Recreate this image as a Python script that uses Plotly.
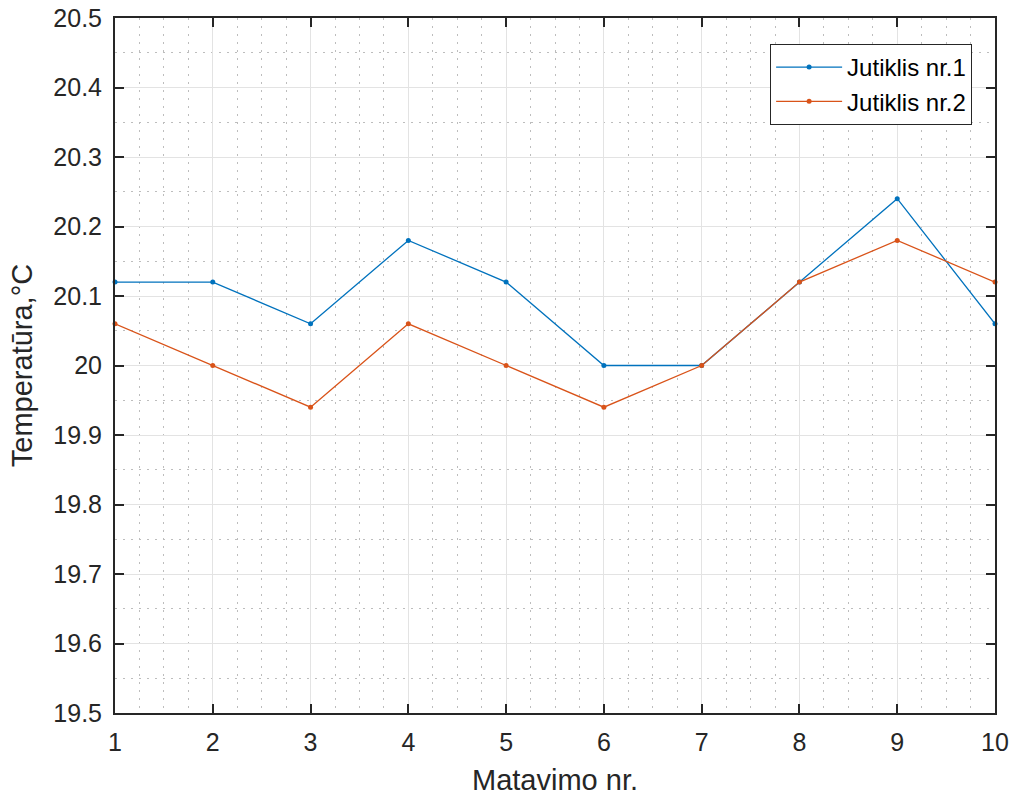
import plotly.graph_objects as go

x_vals = [1, 2, 3, 4, 5, 6, 7, 8, 9, 10]
sensor1 = [20.12, 20.12, 20.06, 20.18, 20.12, 20.00, 20.00, 20.12, 20.24, 20.06]
sensor2 = [20.06, 20.00, 19.94, 20.06, 20.00, 19.94, 20.00, 20.12, 20.18, 20.12]
names = ["Jutiklis nr.1", "Jutiklis nr.2"]
y_tickvals = [19.5, 19.6, 19.7, 19.8, 19.9, 20.0, 20.1, 20.2, 20.3, 20.4, 20.5]
y_ticktext = ["19.5", "19.6", "19.7", "19.8", "19.9", "20", "20.1", "20.2", "20.3", "20.4", "20.5"]
x_tickvals = [1, 2, 3, 4, 5, 6, 7, 8, 9, 10]

font = "Liberation Sans, Arial, sans-serif"
fig = go.Figure()
for ys, nm, col in [(sensor1, names[0], "#0072BD"), (sensor2, names[1], "#D95319")]:
    fig.add_trace(go.Scatter(x=x_vals, y=ys, name=nm, mode="lines+markers",
                             line=dict(color=col, width=1.3),
                             marker=dict(color=col, size=5), cliponaxis=False))

axis_common = dict(showline=True, linecolor="#262626", linewidth=2, mirror="ticks",
                   ticks="inside", ticklen=9, tickwidth=2, tickcolor="#262626",
                   showgrid=True, gridcolor="#e3e3e3", gridwidth=1, zeroline=False,
                   automargin=False,
                   tickfont=dict(family=font, size=25, color="#262626"))
minor_style = dict(showgrid=True, griddash="2px,6px", gridcolor="#bdbdbd", gridwidth=1, ticks="")

fig.update_layout(
    width=1013, height=796,
    margin=dict(l=115, r=18, t=18, b=83),
    paper_bgcolor="white", plot_bgcolor="white",
    showlegend=True,
    legend=dict(x=0.974, y=0.9626, xanchor="right", yanchor="top",
                bordercolor="#262626", borderwidth=1, bgcolor="white",
                font=dict(family=font, size=24, color="#000000"),
                tracegroupgap=0, itemwidth=66),
)
fig.update_xaxes(**axis_common, range=[1, 10], tickvals=x_tickvals, ticklabelstandoff=6,
                 minor=dict(dtick=0.25, **minor_style),
                 title=dict(text="Matavimo nr.", font=dict(family=font, size=29, color="#262626"), standoff=18))
fig.update_yaxes(**axis_common, range=[19.5, 20.5], tickvals=y_tickvals, ticktext=y_ticktext, ticklabelstandoff=6,
                 minor=dict(dtick=0.05, tick0=19.5, **minor_style),
                 title=dict(text="Temperatūra,°C", font=dict(family=font, size=29, color="#262626"), standoff=12))

fig.write_html("out.html", config={"displayModeBar": False},
               post_script="document.body.style.margin='0';")
